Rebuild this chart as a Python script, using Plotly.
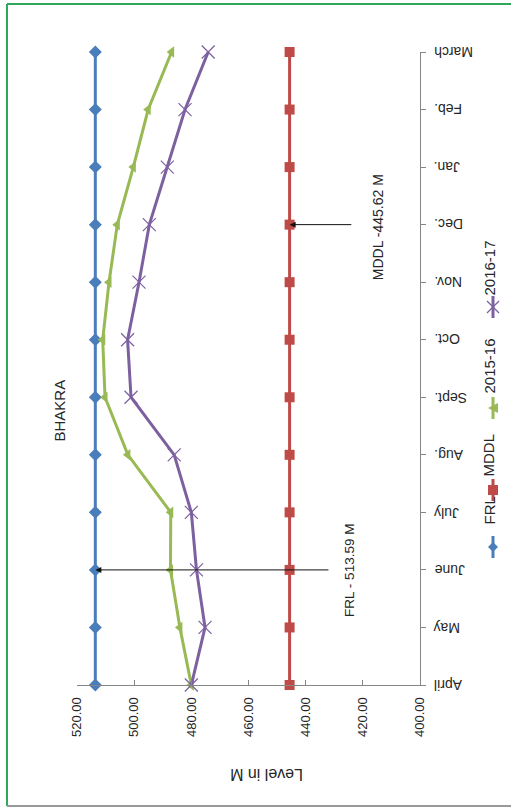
import plotly.graph_objects as go

months = ["April", "May", "June", "July", "Aug.", "Sept.", "Oct.", "Nov.", "Dec.", "Jan.", "Feb.", "March"]
frl = [513.59] * 12
mddl = [445.62] * 12
y2015_16 = [480.0, 484.0, 487.3, 487.2, 502.2, 510.2, 511.0, 508.8, 505.9, 500.3, 495.1, 486.9]
y2016_17 = [480.0, 475.2, 478.2, 480.0, 486.0, 501.1, 502.3, 498.3, 494.7, 488.4, 482.2, 474.1]
value_ticks = [400, 420, 440, 460, 480, 500, 520]

idx = list(range(len(months)))

BLUE = "#4A7EBB"
RED = "#BE4B48"
GREEN = "#98B954"
PURPLE = "#7D60A0"
TXT = "#262626"

fig = go.Figure()

series = [
    ("FRL", frl, BLUE, "diamond", 10, 0),
    ("MDDL", mddl, RED, "square", 10, 0),
    ("2015-16", y2015_16, GREEN, "triangle-left", 10, 0),
    ("2016-17", y2016_17, PURPLE, "x-thin", 13, 1.2),
]
for name, vals, col, sym, sz, lw in series:
    fig.add_trace(go.Scatter(
        x=vals, y=idx, mode="lines+markers", name=name,
        line=dict(color=col, width=3),
        marker=dict(symbol=sym, size=sz, color=col, line=dict(color=col, width=lw)),
        cliponaxis=False, showlegend=False,
    ))

L = 77.0; R = 420.0; T = 52.0; B = 685.0
def px(xp):
    return (xp - L) / (R - L)
def py(yp):
    return (B - yp) / (B - T)
def path(points, close=True):
    s = "M " + " L ".join(f"{px(a):.5f},{py(b):.5f}" for a, b in points)
    return s + (" Z" if close else "")

# Category labels (upside down, as in the rotated original)
for i, m in zip(idx, months):
    fig.add_annotation(xref="paper", yref="y", x=px(432), y=i, text=m,
                       textangle=180, showarrow=False, xanchor="left", yanchor="middle",
                       font=dict(family="Liberation Sans", size=14, color=TXT))

# Manual rotated legend
legend_items = [
    ("FRL", BLUE, "diamond", 547, 527),
    ("MDDL", RED, "square", 490, 455),
    ("2015-16", GREEN, "triangle", 408, 366),
    ("2016-17", PURPLE, "x", 307, 268),
]
gx = 493
for name, col, sym, gy, ty in legend_items:
    fig.add_shape(type="line", xref="paper", yref="paper",
                  x0=px(gx), x1=px(gx), y0=py(gy - 11), y1=py(gy + 11),
                  line=dict(color=col, width=3))
    s = 5
    if sym == "diamond":
        fig.add_shape(type="path", xref="paper", yref="paper",
                      path=path([(gx, gy - s), (gx + s, gy), (gx, gy + s), (gx - s, gy)]),
                      fillcolor=col, line=dict(color=col, width=0))
    elif sym == "square":
        fig.add_shape(type="path", xref="paper", yref="paper",
                      path=path([(gx - s, gy - s), (gx + s, gy - s), (gx + s, gy + s), (gx - s, gy + s)]),
                      fillcolor=col, line=dict(color=col, width=0))
    elif sym == "triangle":
        fig.add_shape(type="path", xref="paper", yref="paper",
                      path=path([(gx - s, gy), (gx + s, gy - s), (gx + s, gy + s)]),
                      fillcolor=col, line=dict(color=col, width=0))
    else:
        fig.add_shape(type="path", xref="paper", yref="paper",
                      path=path([(gx - 6, gy - 6), (gx + 6, gy + 6)], close=False),
                      line=dict(color=col, width=1.2))
        fig.add_shape(type="path", xref="paper", yref="paper",
                      path=path([(gx - 6, gy + 6), (gx + 6, gy - 6)], close=False),
                      line=dict(color=col, width=1.2))
    fig.add_annotation(xref="paper", yref="paper", x=px(gx + 6), y=py(ty),
                       text=name, textangle=-90, showarrow=False,
                       font=dict(family="Liberation Sans", size=15, color=TXT))

# Arrows
fig.add_annotation(x=513.59, y=2, ax=431.5, ay=2, axref="x", ayref="y",
                   xref="x", yref="y", text="", showarrow=True,
                   arrowhead=2, arrowsize=1.2, arrowwidth=1, arrowcolor="#111")
fig.add_annotation(x=445.62, y=8, ax=423.5, ay=8, axref="x", ayref="y",
                   xref="x", yref="y", text="", showarrow=True,
                   arrowhead=2, arrowsize=1.2, arrowwidth=1, arrowcolor="#111")
fig.add_annotation(x=424.5, y=2.0, xref="x", yref="y", text="FRL - 513.59 M",
                   textangle=-90, showarrow=False,
                   font=dict(family="Liberation Sans", size=13.5, color=TXT))
fig.add_annotation(x=414.8, y=7.95, xref="x", yref="y", text="MDDL -445.62 M",
                   textangle=-90, showarrow=False,
                   font=dict(family="Liberation Sans", size=14, color=TXT))

# Titles
fig.add_annotation(xref="paper", yref="paper", x=px(48), y=py(411), text="BHAKRA",
                   textangle=-90, showarrow=False,
                   font=dict(family="Liberation Sans", size=15, color=TXT))
fig.add_annotation(xref="paper", yref="paper", x=px(267), y=py(785), text="Level in M",
                   textangle=180, showarrow=False,
                   font=dict(family="Liberation Sans", size=16, color=TXT))

# Border
fig.add_shape(type="line", xref="paper", yref="paper", x0=px(7), x1=px(511), y0=py(4), y1=py(4),
              line=dict(color="#2EA85A", width=2))
fig.add_shape(type="line", xref="paper", yref="paper", x0=px(7), x1=px(7), y0=py(4), y1=py(806),
              line=dict(color="#2EA85A", width=2))
fig.add_shape(type="line", xref="paper", yref="paper", x0=px(7), x1=px(511), y0=py(806), y1=py(806),
              line=dict(color="#999", width=2))

fig.update_layout(
    width=511, height=807,
    margin=dict(l=77, r=91, t=52, b=122),
    paper_bgcolor="white", plot_bgcolor="white",
    font=dict(family="Liberation Sans", size=12, color=TXT),
    xaxis=dict(range=[520, 400], tickvals=value_ticks, tickformat=".2f",
               tickangle=-90, ticks="inside", ticklen=5, tickcolor="#868686",
               showline=True, linecolor="#868686", linewidth=1,
               showgrid=False, zeroline=False, ticklabelstandoff=6,
               tickfont=dict(family="Liberation Sans", size=13, color=TXT)),
    yaxis=dict(range=[0, 11], tickvals=idx, showticklabels=False, side="right",
               ticks="outside", ticklen=5, tickcolor="#868686",
               showline=True, linecolor="#868686", linewidth=1,
               showgrid=False, zeroline=False),
)

fig.write_html("out.html")
